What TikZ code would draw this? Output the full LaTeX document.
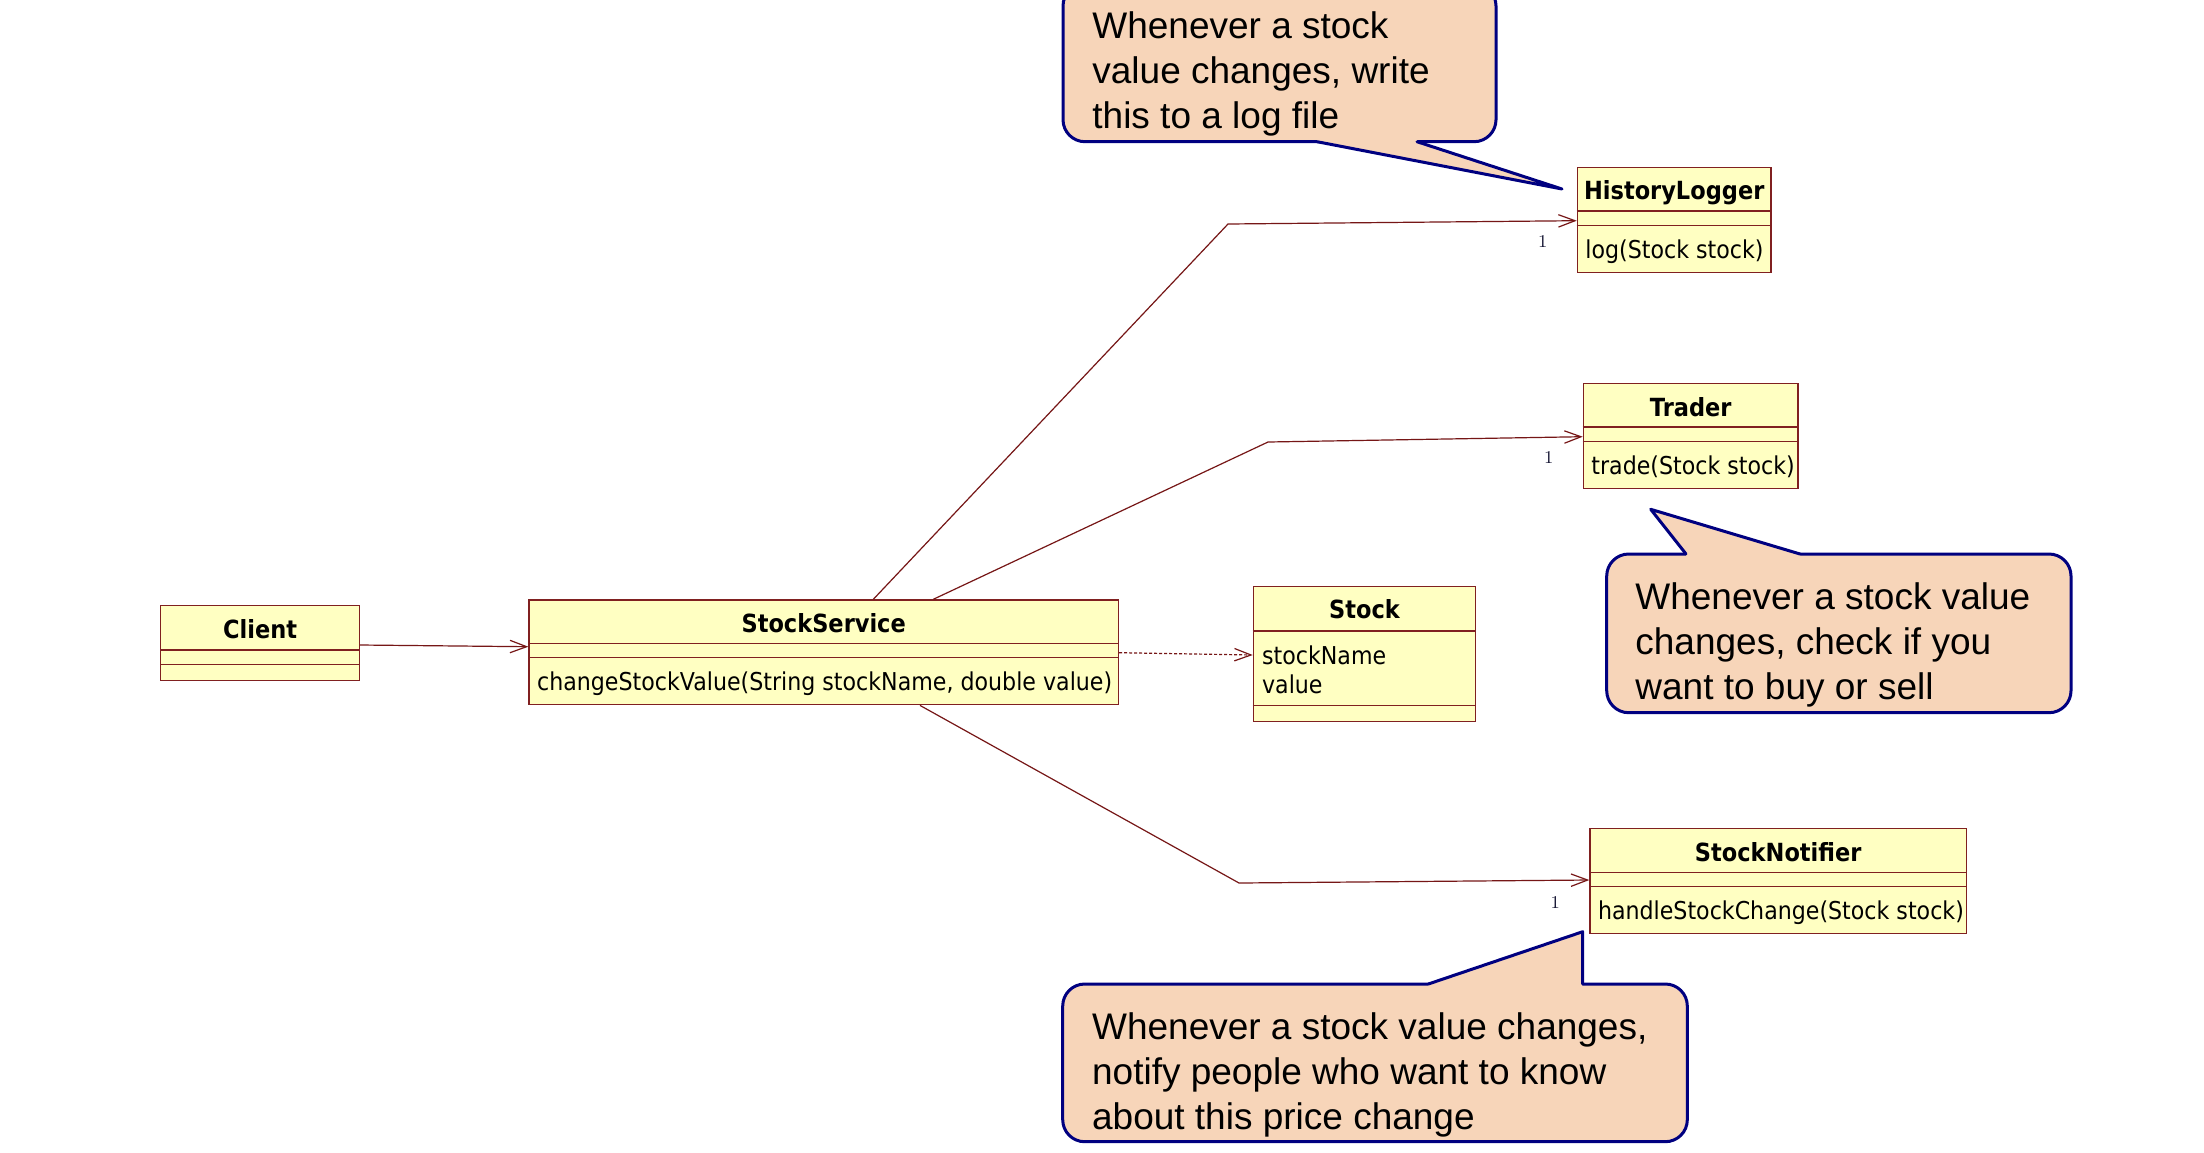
\documentclass[tikz,border=0pt]{standalone}
\usepackage{fontspec}
\newfontfamily\umlfont[FakeStretch=0.9]{DejaVu Sans}
\newfontfamily\notefont{Liberation Sans}
\usetikzlibrary{arrows.meta,calc}
\definecolor{clsfill}{RGB}{255,255,194}
\definecolor{clsdraw}{RGB}{128,32,32}
\definecolor{linkcol}{RGB}{118,22,22}
\definecolor{notefill}{RGB}{247,213,185}
\definecolor{notedraw}{RGB}{0,0,128}
\definecolor{multcol}{RGB}{20,20,50}
\begin{document}
\begin{tikzpicture}[x=0.5pt,y=-0.5pt,
  cls/.style={draw=clsdraw,fill=clsfill,line width=0.7pt,rectangle,inner sep=0pt,anchor=north west},
  clsname/.style={font=\umlfont\bfseries\fontsize{12.5}{14}\selectfont,anchor=base,inner sep=0pt},
  clsop/.style={font=\umlfont\fontsize{12.3}{14.5}\selectfont,anchor=base west,inner sep=0pt},
  clsattr/.style={font=\umlfont\fontsize{12.3}{14.5}\selectfont,anchor=north west,align=left,inner sep=0pt},
  sepline/.style={draw=clsdraw,line width=0.7pt},
  assoc/.style={draw=linkcol,line width=0.6pt,-{Straight Barb[length=8.3pt,width=6.2pt]}},
  dep/.style={assoc,dash pattern=on 1.5pt off 1pt},
  mult/.style={font=\fontsize{9}{10}\selectfont,text=multcol,inner sep=0pt},
  notebox/.style={draw=notedraw,fill=notefill,line width=1.5pt,rounded corners=11pt},
  notetail/.style={draw=notedraw,line width=1.5pt,line join=round,line cap=round},
  notetext/.style={font=\notefont\fontsize{18.5}{22.5}\selectfont,align=left,anchor=north west,inner sep=0pt},
]
\fill[white] (0,0) rectangle (2204,1152);
\useasboundingbox (0,0) rectangle (2204,1152);
\clip (0,0) rectangle (2204,1152);

% ---------- classes ----------
\node[cls,minimum width=99.35pt,minimum height=37.5pt] (cl) at (160,605) {};
\node[clsname] (clN) at ($(cl.north)+(0,33)$) {Client};
\draw[sepline] ($(cl.north west)+(0,45)$) -- ($(cl.north east)+(0,45)$);
\draw[sepline] ($(cl.north west)+(0,59.3)$) -- ($(cl.north east)+(0,59.3)$);

\node[cls,minimum width=294.7pt,minimum height=52.35pt] (ss) at (528.3,599.3) {};
\node[clsname] (ssN) at ($(ss.north)+(0,33)$) {StockService};
\draw[sepline] ($(ss.north west)+(0,44)$) -- ($(ss.north east)+(0,44)$);
\draw[sepline] ($(ss.north west)+(0,58.4)$) -- ($(ss.north east)+(0,58.4)$);
\node[clsop] (ssO) at ($(ss.north west)+(8.4,91.5)$) {changeStockValue(String stockName, double value)};

\node[cls,minimum width=111.15pt,minimum height=67.5pt] (st) at (1252.7,586) {};
\node[clsname] (stN) at ($(st.north)+(0,32.5)$) {Stock};
\draw[sepline] ($(st.north west)+(0,45)$) -- ($(st.north east)+(0,45)$);
\draw[sepline] ($(st.north west)+(0,119.7)$) -- ($(st.north east)+(0,119.7)$);
\node[clsattr] (stA) at ($(st.north west)+(9,59)$) {stockName\\value};

\node[cls,minimum width=96.8pt,minimum height=52.5pt] (hl) at (1576.7,166.7) {};
\node[clsname] (hlN) at ($(hl.north)+(0,33)$) {HistoryLogger};
\draw[sepline] ($(hl.north west)+(0,44.3)$) -- ($(hl.north east)+(0,44.3)$);
\draw[sepline] ($(hl.north west)+(0,59)$) -- ($(hl.north east)+(0,59)$);
\node[clsop] (hlO) at ($(hl.north west)+(8.3,91.5)$) {log(Stock stock)};

\node[cls,minimum width=107.3pt,minimum height=52.5pt] (tr) at (1582.7,382.7) {};
\node[clsname] (trN) at ($(tr.north)+(0,33.5)$) {Trader};
\draw[sepline] ($(tr.north west)+(0,44.3)$) -- ($(tr.north east)+(0,44.3)$);
\draw[sepline] ($(tr.north west)+(0,59)$) -- ($(tr.north east)+(0,59)$);
\node[clsop] (trO) at ($(tr.north west)+(8.3,91.5)$) {trade(Stock stock)};

\node[cls,minimum width=188.2pt,minimum height=52.5pt] (sn) at (1589.3,827.7) {};
\node[clsname] (snN) at ($(sn.north)+(0,33.5)$) {StockNotifier};
\draw[sepline] ($(sn.north west)+(0,44.6)$) -- ($(sn.north east)+(0,44.6)$);
\draw[sepline] ($(sn.north west)+(0,59)$) -- ($(sn.north east)+(0,59)$);
\node[clsop] (snO) at ($(sn.north west)+(8.3,91.8)$) {handleStockChange(Stock stock)};

% ---------- connectors ----------
\coordinate (b1) at (1228,224);
\coordinate (b2) at (1268,442);
\coordinate (b3) at (1239,883);
\draw[assoc] ($(cl.north east)+(0,40)$) -- ($(ss.north west)+(0,47.4)$);
\draw[dep] ($(ss.north east)+(0,53.4)$) -- ($(st.north west)+(0,69)$);
\draw[assoc] ($(ss.north west)+(345,0)$) -- (b1) -- ($(hl.north west)+(0,54)$);
\draw[assoc] ($(ss.north west)+(405,0)$) -- (b2) -- ($(tr.north west)+(0,54)$);
\draw[assoc] ($(ss.south west)+(391.7,0)$) -- (b3) -- ($(sn.north west)+(0,52.3)$);
\node[mult] (m1) at ($(hl.north west)+(-34,75)$) {1};
\node[mult] (m2) at ($(tr.north west)+(-34,75)$) {1};
\node[mult] (m3) at ($(sn.north west)+(-34,75)$) {1};

% ---------- notes ----------
% note 1 (HistoryLogger)
\draw[notebox] (1063,-16) rectangle (1496,141.7);
\coordinate (t1a) at (1317,141.7);
\coordinate (t1t) at (1562,189);
\coordinate (t1b) at (1417,141.7);
\fill[notefill] (t1a) -- (t1t) -- (t1b) -- ($(t1b)+(0,-4)$) -- ($(t1a)+(0,-4)$) -- cycle;
\draw[notetail] (t1a) -- (t1t) -- (t1b);
\node[notetext] (n1) at (1092,11.5) {Whenever a stock\\value changes, write\\this to a log file};

% note 2 (Trader)
\draw[notebox] (1606.7,554) rectangle (2071,712.7);
\coordinate (t2a) at (1686,554);
\coordinate (t2t) at (1650.7,509.3);
\coordinate (t2b) at (1800,554);
\fill[notefill] (t2a) -- (t2t) -- (t2b) -- ($(t2b)+(0,4)$) -- ($(t2a)+(0,4)$) -- cycle;
\draw[notetail] (t2a) -- (t2t) -- (t2b);
\node[notetext] (n2) at (1635,582) {Whenever a stock value\\changes, check if you\\want to buy or sell};

% note 3 (StockNotifier)
\draw[notebox] (1062.7,984) rectangle (1687.3,1141.7);
\coordinate (t3a) at (1428.3,984);
\coordinate (t3t) at (1582.7,931.7);
\coordinate (t3b) at (1582.7,984);
\fill[notefill] (t3a) -- (t3t) -- (t3b) -- ($(t3b)+(0,4)$) -- ($(t3a)+(0,4)$) -- cycle;
\draw[notetail] (t3a) -- (t3t) -- (t3b);
\node[notetext] (n3) at (1091.7,1012) {Whenever a stock value changes,\\notify people who want to know\\about this price change};
\end{tikzpicture}
\end{document}
